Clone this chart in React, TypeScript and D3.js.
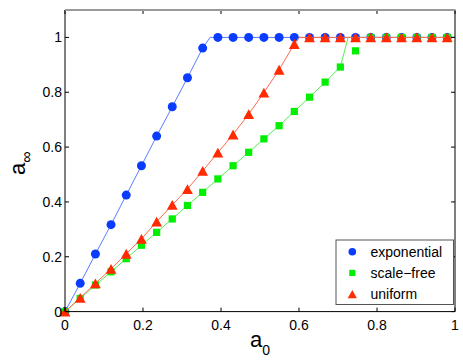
import React, { useRef, useEffect } from "react";
import * as d3 from "d3";

// a0 sample positions (markers)
const a0 = [
  0, 0.039, 0.078, 0.118, 0.157, 0.196, 0.235, 0.275, 0.314, 0.353, 0.392, 0.431, 0.471,
  0.51, 0.549, 0.588, 0.627, 0.667, 0.706, 0.745, 0.784, 0.824, 0.863, 0.902, 0.941, 0.98,
];
const exponential = [
  0, 0.103, 0.21, 0.317, 0.425, 0.532, 0.64, 0.747, 0.853, 0.961, 1, 1, 1,
  1, 1, 1, 1, 1, 1, 1, 1, 1, 1, 1, 1, 1,
];
const scaleFree = [
  0, 0.048, 0.097, 0.145, 0.193, 0.242, 0.289, 0.338, 0.387, 0.435, 0.484, 0.532, 0.581,
  0.63, 0.678, 0.73, 0.782, 0.837, 0.892, 0.951, 1, 1, 1, 1, 1, 1,
];
const uniform = [
  0, 0.05, 0.103, 0.156, 0.211, 0.265, 0.328, 0.389, 0.447, 0.513, 0.58, 0.646, 0.72,
  0.799, 0.882, 0.976, 1, 1, 1, 1, 1, 1, 1, 1, 1, 1,
];

// where each connecting line reaches saturation
const expKink = [0.372, 1];
const scaleFreeKink = [0.726, 1];
const uniformKink = [0.6, 1];

const xTicks = [0, 0.2, 0.4, 0.6, 0.8, 1];
const yTicks = [0, 0.2, 0.4, 0.6, 0.8, 1];
const seriesNames = ["exponential", "scale\u2212free", "uniform"];

const W = 463;
const H = 360;
const FONT = "'Liberation Sans', Arial, Helvetica, sans-serif";

const App = () => {
  const ref = useRef<SVGSVGElement>(null);

  useEffect(() => {
    const svg = d3.select(ref.current);
    svg.selectAll("*").remove();

    const left = 65;
    const right = 455;
    const top = 10;
    const bottom = 311.6;

    const x = d3.scaleLinear().domain([0, 1]).range([left, right]);
    const y = d3.scaleLinear().domain([0, 1.1]).range([bottom, top]);

    svg.append("rect").attr("width", W).attr("height", H).attr("fill", "#fff");

    // line data: markers up to the kink, kink, flat part to a0 = 1
    const buildLine = (vals: number[], kink: number[], skip: number[] = []) => {
      const pts: [number, number][] = [];
      a0.forEach((a, i) => {
        if (skip.includes(i)) return;
        if (a < kink[0]) pts.push([a, vals[i]]);
      });
      pts.push([kink[0], kink[1]]);
      a0.forEach((a, i) => {
        if (a > kink[0] && vals[i] >= 1) pts.push([a, vals[i]]);
      });
      pts.push([1, 1]);
      return pts;
    };

    const line = d3
      .line<[number, number]>()
      .x((d) => x(d[0]))
      .y((d) => y(d[1]));

    const series = [
      { vals: exponential, kink: expKink, skip: [], color: "#0a3cff", lc: "#5b7dff", shape: "circle" },
      { vals: scaleFree, kink: scaleFreeKink, skip: [19], color: "#00ee00", lc: "#55ee55", shape: "square" },
      { vals: uniform, kink: uniformKink, skip: [], color: "#ff2a00", lc: "#ff6a50", shape: "triangle" },
    ];

    const plot = svg.append("g");

    const drawMarker = (g: any, shape: string, color: string, cx: number, cy: number, s = 1) => {
      if (shape === "circle") {
        g.append("circle").attr("cx", cx).attr("cy", cy).attr("r", 4.5 * s).attr("fill", color);
      } else if (shape === "square") {
        const h = 3.6 * s;
        g.append("rect").attr("x", cx - h).attr("y", cy - h).attr("width", 2 * h).attr("height", 2 * h).attr("fill", color);
      } else {
        const w = 5.4 * s;
        const hh = 4.9 * s;
        g.append("path")
          .attr("d", `M${cx},${cy - hh}L${cx + w},${cy + hh}L${cx - w},${cy + hh}Z`)
          .attr("fill", color);
      }
    };

    series.forEach((s) => {
      plot
        .append("path")
        .datum(buildLine(s.vals, s.kink, s.skip))
        .attr("d", line)
        .attr("fill", "none")
        .attr("stroke", s.lc)
        .attr("stroke-width", 1);
      a0.forEach((a, i) => drawMarker(plot, s.shape, s.color, x(a), y(s.vals[i])));
    });

    // box
    const axis = svg.append("g").attr("stroke", "#000").attr("stroke-width", 1);
    axis.append("line").attr("x1", left).attr("x2", left).attr("y1", top).attr("y2", bottom);
    axis.append("line").attr("x1", right).attr("x2", right).attr("y1", top).attr("y2", bottom);
    axis.append("line").attr("x1", left).attr("x2", right).attr("y1", bottom).attr("y2", bottom);
    svg.append("line").attr("x1", left).attr("x2", right + 0.5).attr("y1", top).attr("y2", top)
      .attr("stroke", "#999").attr("stroke-width", 2);

    const tl = 4;
    xTicks.forEach((t) => {
      axis.append("line").attr("x1", x(t)).attr("x2", x(t)).attr("y1", bottom).attr("y2", bottom - tl);
      axis.append("line").attr("x1", x(t)).attr("x2", x(t)).attr("y1", top).attr("y2", top + tl);
      svg.append("text").attr("x", x(t)).attr("y", bottom + 18).attr("text-anchor", "middle")
        .attr("font-family", FONT).attr("font-size", 14).text(String(t));
    });
    yTicks.forEach((t) => {
      axis.append("line").attr("x1", left).attr("x2", left + tl).attr("y1", y(t)).attr("y2", y(t));
      axis.append("line").attr("x1", right).attr("x2", right - tl).attr("y1", y(t)).attr("y2", y(t));
      svg.append("text").attr("x", left - 3).attr("y", y(t) + 5).attr("text-anchor", "end")
        .attr("font-family", FONT).attr("font-size", 14).text(String(t));
    });

    // axis labels
    const xl = svg.append("text").attr("x", 250).attr("y", 347).attr("font-family", FONT).attr("font-size", 22);
    xl.append("tspan").text("a");
    xl.append("tspan").attr("font-size", 14).attr("dy", 8).text("0");

    const yl = svg.append("text").attr("transform", "translate(25,175) rotate(-90)")
      .attr("font-family", FONT).attr("font-size", 22);
    yl.append("tspan").text("a");
    yl.append("tspan").attr("font-size", 16).attr("dy", 7).text("\u221e");

    // legend
    const lg = svg.append("g");
    lg.append("rect").attr("x", 336).attr("y", 240).attr("width", 117.5).attr("height", 64.5)
      .attr("fill", "#fff").attr("stroke", "#555").attr("stroke-width", 1);
    series.forEach((s, i) => {
      const cy = 251.7 + i * 21.2;
      drawMarker(lg, s.shape, s.color, 352.3, cy, 0.85);
      lg.append("text").attr("x", 370.5).attr("y", cy + 5).attr("font-family", FONT)
        .attr("font-size", 14).text(seriesNames[i]);
    });
  });

  return (
    <svg
      ref={ref}
      width={W}
      height={H}
      style={{ position: "absolute", left: 0, top: 0 }}
    />
  );
};

export default App;
